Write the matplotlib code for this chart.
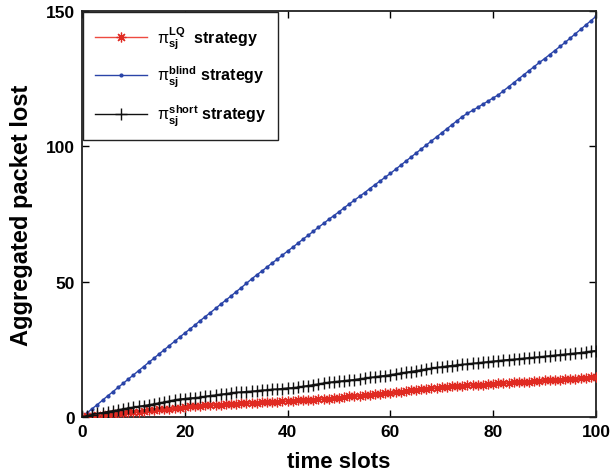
import matplotlib
matplotlib.use("Agg")
import matplotlib.pyplot as plt
import numpy as np

plt.rcParams['font.family'] = ['Liberation Sans', 'DejaVu Sans']
plt.rcParams['mathtext.fontset'] = 'custom'
plt.rcParams['mathtext.rm'] = 'Liberation Sans'
plt.rcParams['mathtext.it'] = 'Liberation Sans'
plt.rcParams['mathtext.bf'] = 'Liberation Sans:bold'

time_slots = list(range(0, 101))

lq = [0, 0.2, 0.4, 0.6, 0.8, 1.0, 1.1, 1.3, 1.5, 1.7, 1.9, 2.0, 2.2, 2.4, 2.6, 2.8, 3.0, 3.1, 3.3, 3.5,
      3.7, 3.9, 4.0, 4.2, 4.3, 4.4, 4.5, 4.6, 4.7, 4.8, 4.9, 5.0, 5.1, 5.2, 5.3, 5.4, 5.5, 5.6, 5.7, 5.8,
      5.9, 6.0, 6.1, 6.2, 6.3, 6.4, 6.5, 6.7, 6.8, 7.0, 7.2, 7.4, 7.6, 7.8, 7.9, 8.1, 8.3, 8.5, 8.6, 8.8,
      9.0, 9.2, 9.4, 9.6, 9.8, 10.0, 10.2, 10.4, 10.6, 10.8, 10.9, 11.1, 11.3, 11.4, 11.5, 11.7, 11.8, 11.9, 12.0, 12.2,
      12.3, 12.4, 12.5, 12.6, 12.8, 12.9, 13.0, 13.1, 13.2, 13.4, 13.5, 13.6, 13.7, 13.8, 14.0, 14.1, 14.2, 14.3, 14.4, 14.6,
      14.7]

blind = [0, 1.5, 3.1, 4.6, 6.2, 7.8, 9.3, 10.9, 12.4, 14.0, 15.5, 17.1, 18.6, 20.2, 21.7, 23.3, 24.8, 26.4, 27.9, 29.5,
         31.0, 32.5, 34.0, 35.6, 37.1, 38.6, 40.1, 41.7, 43.2, 44.7, 46.3, 47.8, 49.4, 51.0, 52.5, 53.9, 55.4, 56.9, 58.3, 59.8,
         61.3, 62.7, 64.2, 65.7, 67.1, 68.6, 70.1, 71.5, 73.0, 74.4, 75.8, 77.3, 78.7, 80.1, 81.5, 82.9, 84.4, 85.8, 87.2, 88.6,
         90.0, 91.5, 93.0, 94.5, 96.0, 97.5, 99.0, 100.5, 102.0, 103.5, 105.0, 106.5, 108.0, 109.5, 111.0, 112.2, 113.3, 114.4, 115.6, 116.7,
         117.9, 119.0, 120.5, 122.0, 123.5, 125.0, 126.5, 128.0, 129.5, 131.0, 132.4, 133.9, 135.4, 136.9, 138.4, 140.0, 141.6, 143.2, 144.8, 146.4,
         148.0]

short = [0, 0.5, 0.9, 1.3, 1.6, 2.0, 2.3, 2.6, 3.0, 3.3, 3.6, 3.9, 4.2, 4.5, 4.8, 5.2, 5.5, 5.9, 6.3, 6.6,
         6.8, 7.0, 7.1, 7.3, 7.6, 7.9, 8.1, 8.4, 8.6, 8.9, 9.1, 9.2, 9.4, 9.5, 9.7, 9.9, 10.0, 10.2, 10.3, 10.5,
         10.7, 10.8, 11.0, 11.3, 11.6, 11.9, 12.2, 12.5, 12.8, 13.0, 13.2, 13.4, 13.6, 13.8, 14.1, 14.3, 14.6, 14.8, 15.1, 15.3,
         15.6, 15.9, 16.2, 16.5, 16.8, 17.1, 17.4, 17.7, 18.0, 18.3, 18.5, 18.8, 19.0, 19.2, 19.4, 19.6, 19.8, 20.0, 20.2, 20.4,
         20.6, 20.8, 21.0, 21.2, 21.3, 21.5, 21.7, 21.9, 22.0, 22.2, 22.4, 22.6, 22.8, 23.0, 23.2, 23.4, 23.6, 23.8, 24.0, 24.3,
         24.5]

labels = [r'$\pi_{\mathbf{sj}}^{\mathbf{LQ}}$  strategy',
          r'$\pi_{\mathbf{sj}}^{\mathbf{blind}}$ strategy',
          r'$\pi_{\mathbf{sj}}^{\mathbf{short}}$ strategy']

xticks = [0, 20, 40, 60, 80, 100]
yticks = [0, 50, 100, 150]

fig = plt.figure(figsize=(6.1, 4.77), dpi=100)
ax = fig.add_axes([0.1344, 0.1237, 0.8426, 0.8511])

ax.plot(time_slots, lq, color='#ee4a40', marker=(8, 2, 0), markersize=7, markeredgewidth=0.9,
        markeredgecolor='#e02a22', linewidth=1.0, label=labels[0], zorder=3)
ax.plot(time_slots, blind, color='#2a44a8', marker='.', markersize=4, linewidth=1.0,
        label=labels[1], zorder=2)
ax.plot(time_slots, short, color='#111111', marker='+', markersize=8, markeredgewidth=1.0,
        linewidth=1.0, label=labels[2], zorder=4)

ax.set_xlim(0, 100)
ax.set_ylim(0, 150)
ax.set_xticks(xticks)
ax.set_yticks(yticks)
ax.tick_params(direction='in', top=True, right=True, length=5, width=1.0,
               labelsize=12.5, pad=5)
for lab in ax.get_xticklabels() + ax.get_yticklabels():
    lab.set_fontweight('bold')
for sp in ax.spines.values():
    sp.set_linewidth(1.3)
    sp.set_color('#222222')

ax.set_xlabel('time slots', fontsize=16, fontweight='bold', labelpad=9)
ax.set_ylabel('Aggregated packet lost', fontsize=17, fontweight='bold', labelpad=9)

leg = ax.legend(loc='upper left', bbox_to_anchor=(0.0, 1.0), numpoints=1,
                prop={'weight': 'bold', 'size': 11.5}, handlelength=3.3,
                labelspacing=0.85, borderpad=0.75, handletextpad=0.6,
                fancybox=False, framealpha=1, borderaxespad=0.05)
leg.get_frame().set_edgecolor('#222222')
leg.get_frame().set_linewidth(1.0)

fig.savefig('out.png', dpi=100)
